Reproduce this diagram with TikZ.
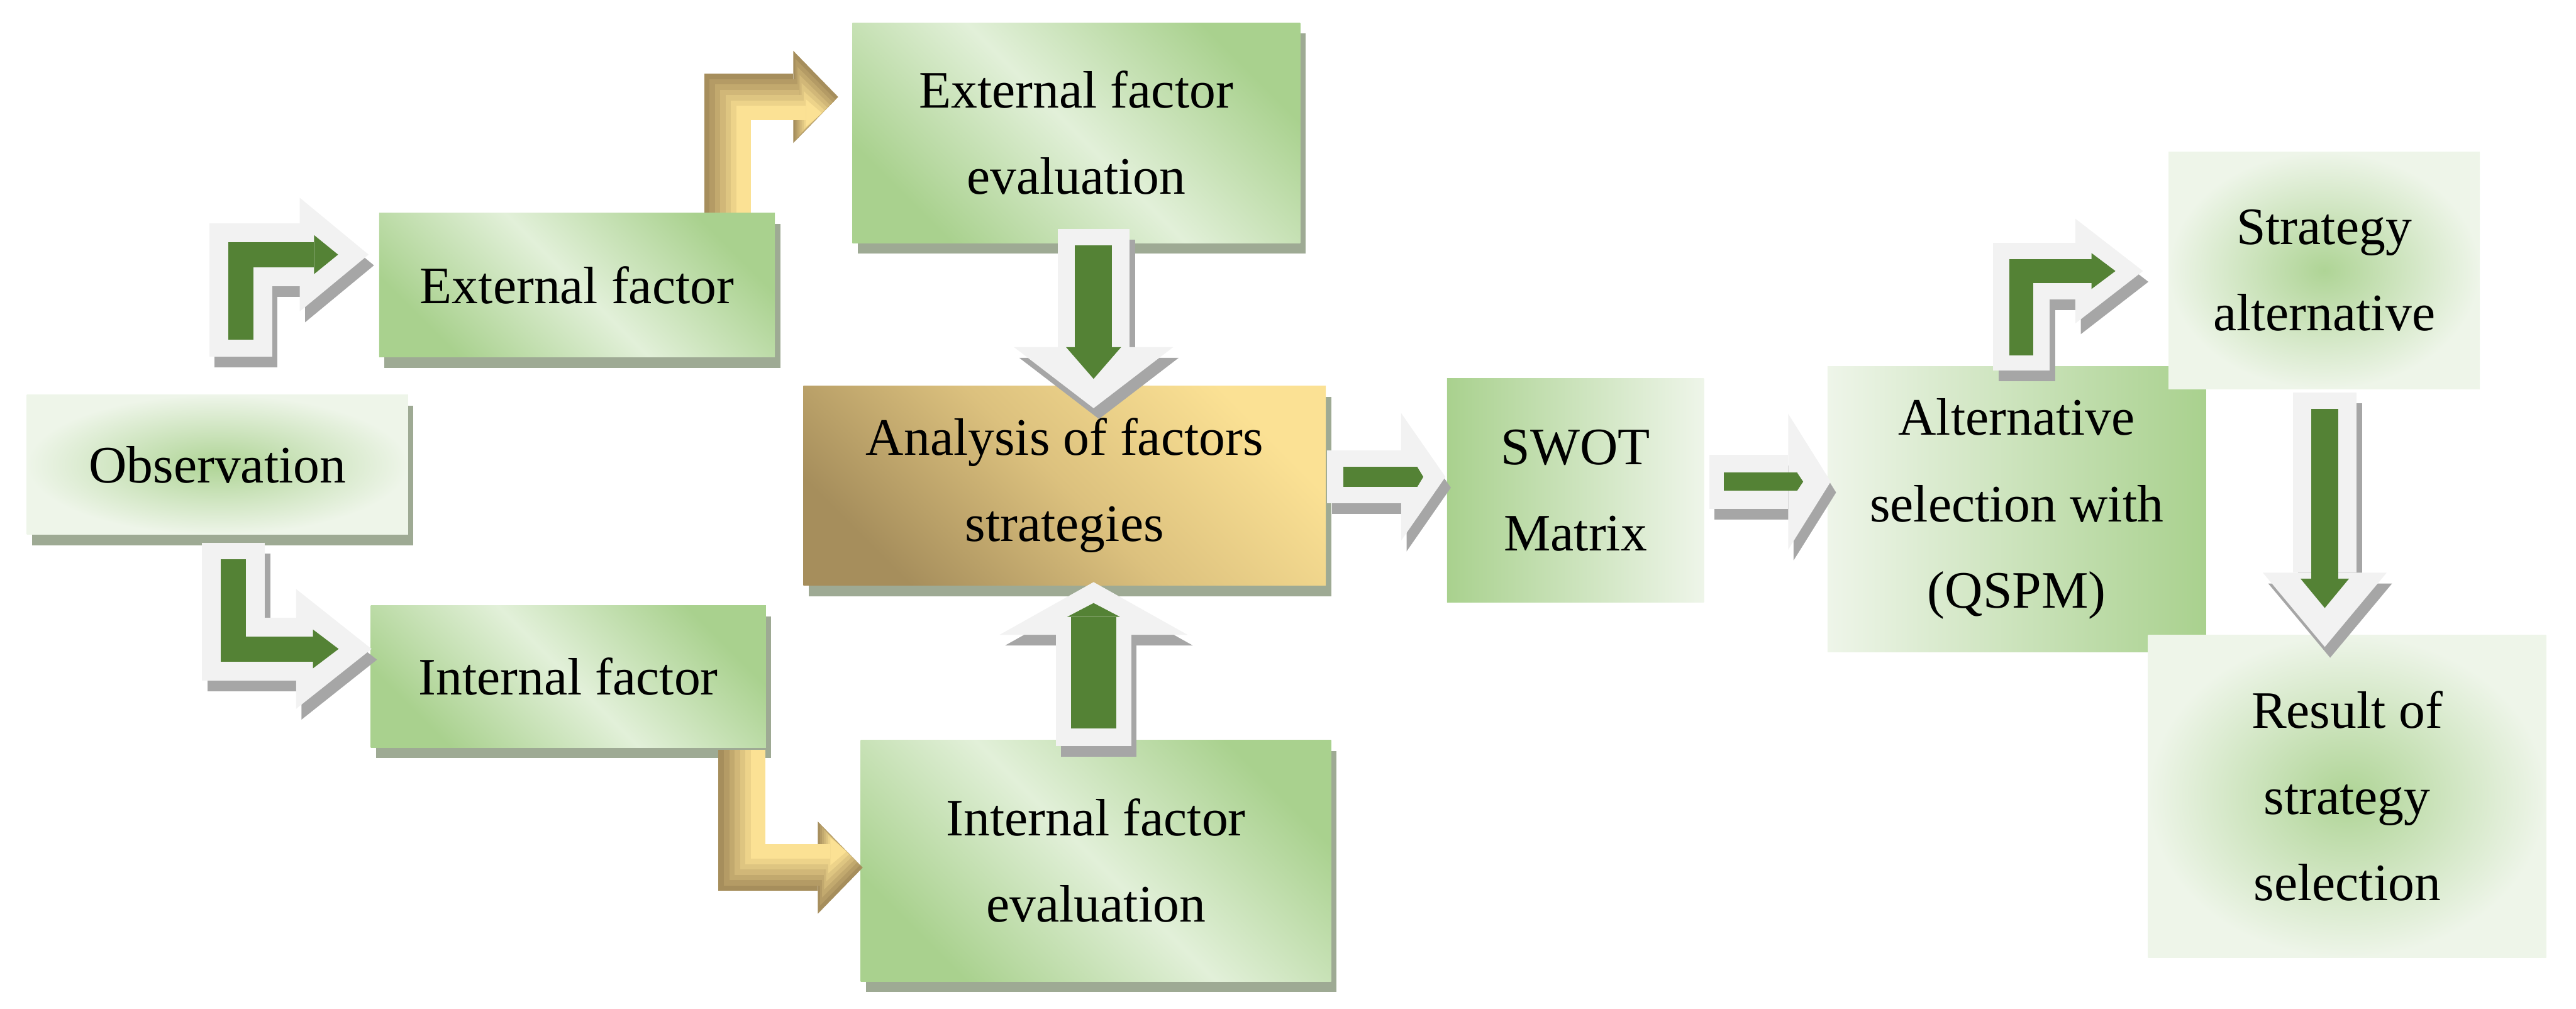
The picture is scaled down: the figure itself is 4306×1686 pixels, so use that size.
\documentclass[tikz,border=0pt]{standalone}
\usepackage{fontspec}
\setmainfont{Liberation Serif}
\usetikzlibrary{arrows.meta,calc,shadows}
\definecolor{gdark}{HTML}{548235}
\definecolor{gmid}{HTML}{A9D18E}
\definecolor{glight}{HTML}{E2F0D9}
\definecolor{gpale}{HTML}{EEF5E9}
\definecolor{tanlight}{HTML}{FBE194}
\definecolor{tanmid}{HTML}{DCC17E}
\definecolor{tandark}{HTML}{A68E5C}
\definecolor{boxshade}{HTML}{9EAA94}
\definecolor{arrfill}{HTML}{F2F2F2}
\definecolor{arrshade}{HTML}{A6A6A6}
\tikzset{
  box/.style={inner sep=2pt,align=center,font=\fontsize{25}{41}\selectfont},
  raised/.style={drop shadow={shadow xshift=0.9mm,shadow yshift=-1.8mm,fill=boxshade,opacity=1}},
  diagbox/.style={box,top color=gmid,bottom color=gmid,middle color=glight,shading angle=-45},
  glowbox/.style={box,inner color=gmid!90!glight,outer color=gpale},
  leftbox/.style={box,left color=gmid,right color=gpale},
  rightbox/.style={box,left color=gpale,right color=gmid},
  goldbox/.style={box,top color=tanlight,bottom color=tandark,middle color=tanmid,shading angle=-45},
  bt/.style 2 args={-{Triangle[width=#1,length=#2,line width=0pt 0 0]}},
  arrshadow/.style={draw=arrshade,transform canvas={xshift=0.9mm,yshift=-1.8mm}},
  arrbody/.style={draw=arrfill},
  arrcore/.style={draw=gdark},
}
\newcommand{\blockarrow}[3]{%
  \draw[arrshadow,#1] #3;
  \draw[arrbody,#1] #3;
  \draw[arrcore,#2] #3;}
% gold bent arrow, shaded towards the inner corner (#2: -1 below, 1 above)
\newcommand{\goldarrow}[2]{%
  \foreach \k in {0,...,6}{
    \pgfmathsetmacro\lw{7.8-0.9*\k}
    \pgfmathsetmacro\tw{15.4-1.8*\k}
    \pgfmathsetmacro\tl{7.5-0.8*\k}
    \pgfmathsetmacro\sh{0.45*\k}
    \pgfmathsetmacro\sb{0.9*\k}
    \pgfmathsetmacro\ys{#2*0.45*\k}
    \pgfmathtruncatemacro\p{100*\k/6}
    \draw[draw=tanlight!\p!tandark,line width=\lw mm,bt={\tw mm}{\tl mm},
      shorten <=\sh mm,shorten >=\sb mm,transform canvas={xshift=\sh mm,yshift=\ys mm}] #1;
  }}

\begin{document}
\begin{tikzpicture}[x=0.01cm,y=-0.01cm]
\useasboundingbox (0,0) rectangle (4306,1686);
\node[glowbox,raised,minimum width=63.7mm,minimum height=23.3mm] (obs) at (363.5,776.5) {Observation};
\node[diagbox,raised,minimum width=66.1mm,minimum height=24.1mm] (ext) at (964.5,476.5) {External factor};
\node[diagbox,raised,minimum width=66mm,minimum height=23.7mm] (int) at (950,1130.5) {Internal factor};
\node[diagbox,raised,minimum width=74.8mm,minimum height=36.8mm] (efe) at (1799,222) {External factor\\evaluation};
\node[goldbox,raised,minimum width=87.3mm,minimum height=33.3mm] (ana) at (1779.5,811.5) {Analysis of factors\\strategies};
\node[diagbox,raised,minimum width=78.6mm,minimum height=40.3mm] (ife) at (1832,1438.5) {Internal factor\\evaluation};
\node[leftbox,minimum width=42.9mm,minimum height=37.5mm] (swot) at (2633.5,819.5) {SWOT\\Matrix};
\node[rightbox,minimum width=63.2mm,minimum height=47.7mm] (alt) at (3371,850.5) {Alternative\\selection with\\(QSPM)};
\node[glowbox,minimum width=52mm,minimum height=39.6mm] (sta) at (3885,452) {Strategy\\alternative};
\node[glowbox,minimum width=66.5mm,minimum height=53.9mm] (res) at (3923.5,1330.5) {Result of\\strategy\\selection};

\blockarrow{line width=10.5mm,bt={19mm}{11.5mm}}{line width=4.2mm,bt={6.5mm}{4mm},shorten <=2.9mm,shorten >=5.1mm}
  {($(obs.north)+(39,-63)$) |- ($(ext.west)+(-17,-51)$)}
\blockarrow{line width=10.5mm,bt={20mm}{12.6mm}}{line width=4.2mm,bt={6.5mm}{4.3mm},shorten <=2.8mm,shorten >=5.5mm}
  {($(obs.south)+(27,13)$) |- ($(int.west)+(2,-46)$)}
\goldarrow{($(ext.north)+(251.5,0)$) |- ($(efe.west)+(-23,-60)$)}{-1}
\goldarrow{($(int.south)+(290,3)$) |- ($(ife.west)+(4,11.5)$)}{1}
\blockarrow{line width=12mm,bt={26.6mm}{10.2mm}}{line width=6.2mm,bt={9.2mm}{5.3mm},shorten <=2.7mm,shorten >=4.9mm}
  {($(efe.south)+(29,-24)$) -- ($(ana.north)+(48.5,38)$)}
\blockarrow{line width=12.6mm,bt={31.4mm}{8.8mm}}{line width=7.5mm,bt={8.8mm}{2.3mm},shorten <=3mm,shorten >=3.5mm}
  {($(ife.north)+(-4,11)$) -- ($(ana.south)+(48.5,-6)$)}
\blockarrow{line width=8.8mm,bt={21.3mm}{7.4mm}}{line width=3.3mm,bt={3.3mm}{1mm},shorten <=2.8mm,shorten >=3.7mm}
  {($(ana.east)+(1,-14.5)$) -- ($(swot.west)+(-2,-22.5)$)}
\blockarrow{line width=9mm,bt={22.7mm}{7.1mm}}{line width=3mm,bt={3mm}{1mm},shorten <=2.5mm,shorten >=4.6mm}
  {($(swot.east)+(8,-14.5)$) -- ($(alt.west)+(6,-45.5)$)}
\blockarrow{line width=9.5mm,bt={17.5mm}{11.3mm}}{line width=4mm,bt={6mm}{4mm},shorten <=2.5mm,shorten >=4.6mm}
  {($(alt.north)+(8,8)$) |- ($(sta.west)+(-42,1)$)}
\blockarrow{line width=10.7mm,bt={20.7mm}{12.4mm}}{line width=4.5mm,bt={8.1mm}{4.9mm},shorten <=2.8mm,shorten >=6.5mm}
  {($(sta.south)+(1,5)$) -- ($(res.north)+(-37.5,21)$)}
\end{tikzpicture}
\end{document}
